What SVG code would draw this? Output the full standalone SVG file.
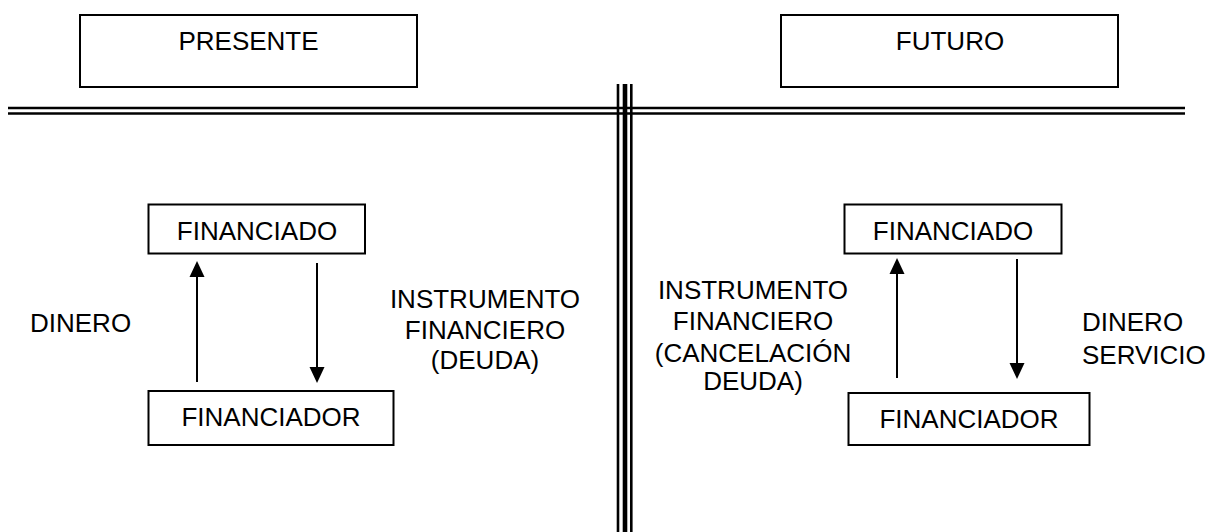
<svg xmlns="http://www.w3.org/2000/svg" width="1213" height="532" viewBox="0 0 1213 532">
<style>
.box{fill:#fff;stroke:#000;stroke-width:2}
.t{font-family:"Liberation Sans",Arial,sans-serif;font-size:26px;fill:#000}
.c{text-anchor:middle}
.arr{stroke:#000;stroke-width:2;fill:none;marker-end:url(#ah)}
.ln{stroke:#000;fill:none}
</style>
<defs>
<marker id="ah" markerUnits="userSpaceOnUse" markerWidth="17" markerHeight="16" refX="0" refY="7.5" orient="auto" overflow="visible">
<path d="M0,0 L16,7.5 L0,15 Z" fill="#000"/>
</marker>
</defs>
<rect width="1213" height="532" fill="#fff"/>
<g id="separators">
<line class="ln" x1="8" y1="108" x2="1185" y2="108" stroke-width="2.7"/>
<line class="ln" x1="8" y1="113.5" x2="1185" y2="113.5" stroke-width="2.4"/>
<line class="ln" x1="618" y1="84" x2="618" y2="532" stroke-width="2.6"/>
<line class="ln" x1="625" y1="84" x2="625" y2="532" stroke-width="4.6"/>
<line class="ln" x1="631.3" y1="84" x2="631.3" y2="532" stroke-width="2.6"/>
</g>
<g id="presente">
<rect class="box" x="80" y="15" width="337" height="72"/>
<text class="t c" x="248.5" y="50">PRESENTE</text>
</g>
<g id="futuro">
<rect class="box" x="781" y="15" width="337" height="72"/>
<text class="t c" x="950" y="50">FUTURO</text>
</g>
<g id="financiado-left">
<rect class="box" x="148.5" y="204.5" width="216.5" height="49"/>
<text class="t c" x="257" y="239.5">FINANCIADO</text>
</g>
<g id="financiador-left">
<rect class="box" x="148.5" y="391" width="245" height="54"/>
<text class="t c" x="271" y="426">FINANCIADOR</text>
</g>
<g id="financiado-right">
<rect class="box" x="844.5" y="204.5" width="217" height="49"/>
<text class="t c" x="953" y="239.5">FINANCIADO</text>
</g>
<g id="financiador-right">
<rect class="box" x="848.5" y="393" width="241" height="52"/>
<text class="t c" x="969" y="427.5">FINANCIADOR</text>
</g>
<g id="labels">
<text class="t" x="30" y="332">DINERO</text>
<text class="t c" x="485" y="307.5">INSTRUMENTO</text>
<text class="t c" x="485" y="338.5">FINANCIERO</text>
<text class="t c" x="485" y="369">(DEUDA)</text>
<text class="t c" x="753" y="298.5">INSTRUMENTO</text>
<text class="t c" x="753" y="330">FINANCIERO</text>
<text class="t c" x="753" y="361.5">(CANCELACIÓN</text>
<text class="t c" x="753" y="390">DEUDA)</text>
<text class="t" x="1082" y="330.5">DINERO</text>
<text class="t" x="1082" y="363.5">SERVICIO</text>
</g>
<g id="connectors">
<line class="arr" x1="197" y1="382" x2="197" y2="277"/>
<line class="arr" x1="317" y1="263" x2="317" y2="367"/>
<line class="arr" x1="897" y1="378" x2="897" y2="274"/>
<line class="arr" x1="1017" y1="259" x2="1017" y2="363"/>
</g>
</svg>
